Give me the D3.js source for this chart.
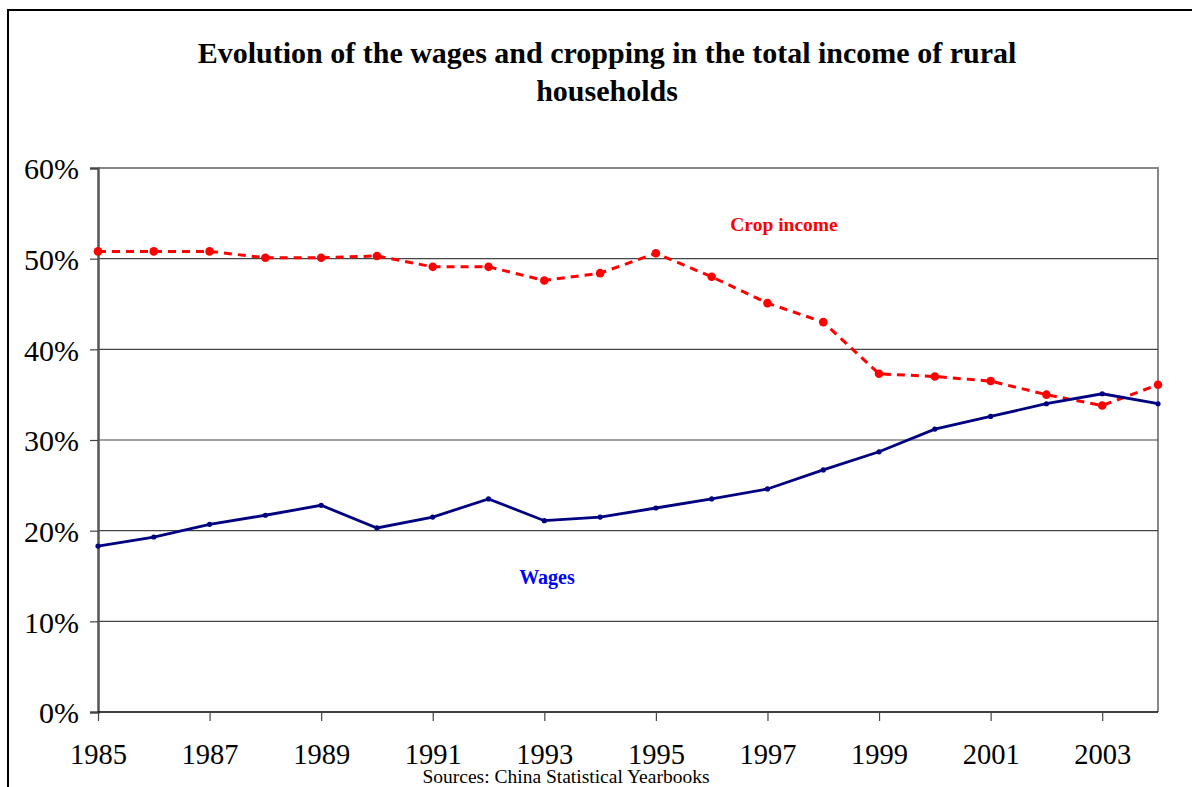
<!DOCTYPE html>
<html>
<head>
<meta charset="utf-8">
<script src="https://cdn.jsdelivr.net/npm/d3@7"></script>
<style>
  html, body { margin: 0; padding: 0; background: #fff; }
  svg { display: block; font-family: "Liberation Serif", "Times New Roman", serif; }
</style>
</head>
<body>
<svg id="chart" width="1192" height="787"></svg>
<script>
// ── data ─────────────────────────────────────────────────────────────────
const years = d3.range(1985, 2005);
const cropIncome = [50.8, 50.8, 50.8, 50.1, 50.1, 50.3, 49.1, 49.1, 47.6, 48.4,
                    50.6, 48.0, 45.1, 43.0, 37.3, 37.0, 36.5, 35.0, 33.8, 36.1];
const wages      = [18.3, 19.3, 20.7, 21.7, 22.8, 20.3, 21.5, 23.5, 21.1, 21.5,
                    22.5, 23.5, 24.6, 26.7, 28.7, 31.2, 32.6, 34.0, 35.1, 34.0];
const yTicks = [0, 10, 20, 30, 40, 50, 60];
const xTickYears = [1985, 1987, 1989, 1991, 1993, 1995, 1997, 1999, 2001, 2003];

// ── geometry ─────────────────────────────────────────────────────────────
const margin = { top: 168, right: 34, bottom: 75, left: 98 };
const W = 1192, H = 787;
const innerW = W - margin.left - margin.right;
const innerH = H - margin.top - margin.bottom;
const serif = "'Liberation Serif', 'Times New Roman', serif";

const svg = d3.select("#chart");

// outer frame
svg.append("path")
    .attr("d", `M8,787 V10 H1192`)
    .attr("fill", "none")
    .attr("stroke", "#000")
    .attr("stroke-width", 2);

// title
const title = svg.append("text")
    .attr("text-anchor", "middle")
    .attr("font-weight", "bold")
    .style("font-size", "30px");
title.append("tspan").attr("x", 607).attr("y", 63)
    .text("Evolution of the wages and cropping in the total income of rural");
title.append("tspan").attr("x", 607).attr("y", 101)
    .text("households");

const g = svg.append("g")
    .attr("transform", `translate(${margin.left},${margin.top})`);

const x = d3.scaleLinear().domain([1985, 2004]).range([0, innerW]);
const y = d3.scaleLinear().domain([0, 60]).range([innerH, 0]);

// plot-area border (top/right gray)
g.append("path")
    .attr("d", `M0,0 H${innerW} V${innerH}`)
    .attr("fill", "none")
    .attr("stroke", "#888")
    .attr("stroke-width", 2);

// grid lines
g.selectAll(".grid")
    .data(yTicks.filter(d => d > 0 && d < 60))
    .enter().append("line")
    .attr("class", "grid")
    .attr("x1", 0).attr("x2", innerW)
    .attr("y1", d => y(d)).attr("y2", d => y(d))
    .attr("stroke", "#444")
    .attr("stroke-width", 1.2);

// y axis
const yAxis = g.append("g")
    .call(d3.axisLeft(y).tickValues(yTicks).tickSize(8).tickPadding(11)
        .tickFormat(d => d + "%"));
yAxis.attr("font-family", serif);
yAxis.select(".domain").attr("stroke", "#555").attr("stroke-width", 2.5);
yAxis.selectAll(".tick line").attr("stroke", "#444").attr("stroke-width", 1.2);
yAxis.selectAll("text")
    .attr("fill", "#000")
    .attr("dy", "0.36em")
    .style("font-size", "30px");

// x axis
const xAxis = g.append("g")
    .attr("transform", `translate(0,${innerH})`)
    .call(d3.axisBottom(x).tickValues(xTickYears).tickSize(9).tickPadding(23)
        .tickFormat(d3.format("d")));
xAxis.attr("font-family", serif);
xAxis.select(".domain").attr("d", `M0,0H${innerW}`).attr("stroke", "#000").attr("stroke-width", 1.5);
xAxis.selectAll(".tick line").attr("stroke", "#444").attr("stroke-width", 1.2);
xAxis.selectAll("text")
    .attr("fill", "#000")
    .style("font-size", "28.5px");

// ── series ───────────────────────────────────────────────────────────────
const line = d3.line().x((d, i) => x(years[i])).y(d => y(d));

g.append("path")
    .datum(cropIncome)
    .attr("d", line)
    .attr("fill", "none")
    .attr("stroke", "#ff0000")
    .attr("stroke-width", 3)
    .attr("stroke-dasharray", "8,6");

g.selectAll(".crop-dot")
    .data(cropIncome)
    .enter().append("circle")
    .attr("class", "crop-dot")
    .attr("cx", (d, i) => x(years[i]))
    .attr("cy", d => y(d))
    .attr("r", 4.3)
    .attr("fill", "#ff0000");

g.append("path")
    .datum(wages)
    .attr("d", line)
    .attr("fill", "none")
    .attr("stroke", "#000080")
    .attr("stroke-width", 2.8);

g.selectAll(".wage-dot")
    .data(wages)
    .enter().append("circle")
    .attr("class", "wage-dot")
    .attr("cx", (d, i) => x(years[i]))
    .attr("cy", d => y(d))
    .attr("r", 2.6)
    .attr("fill", "#000080");

// ── labels ───────────────────────────────────────────────────────────────
svg.append("text")
    .attr("x", 784).attr("y", 231)
    .attr("text-anchor", "middle")
    .attr("font-weight", "bold")
    .attr("fill", "#ff0000")
    .style("font-size", "19.5px")
    .text("Crop income");

svg.append("text")
    .attr("x", 547).attr("y", 584)
    .attr("text-anchor", "middle")
    .attr("font-weight", "bold")
    .attr("fill", "#0000ff")
    .style("font-size", "20px")
    .text("Wages");

svg.append("text")
    .attr("x", 566).attr("y", 783)
    .attr("text-anchor", "middle")
    .attr("fill", "#000")
    .style("font-size", "19.5px")
    .text("Sources: China Statistical Yearbooks");
</script>
</body>
</html>
